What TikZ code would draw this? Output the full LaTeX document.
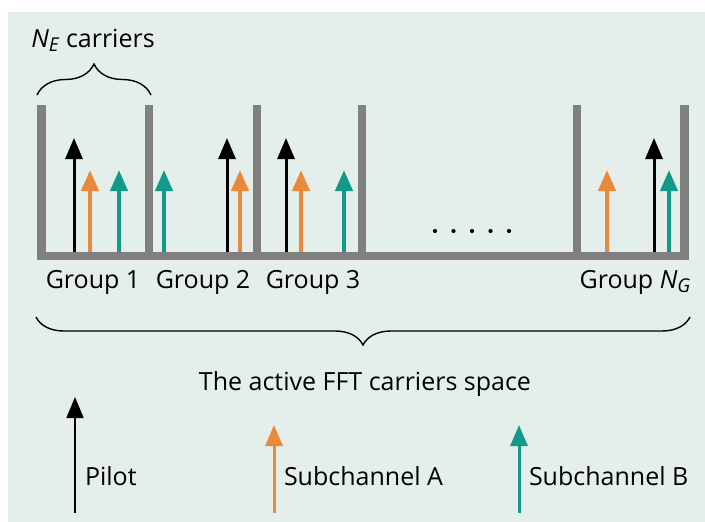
\documentclass[tikz,border=0pt]{standalone}
\usepackage{fontspec}
\setmainfont{Open Sans}
\usetikzlibrary{arrows.meta}
\usetikzlibrary{decorations.pathreplacing}
\definecolor{panelbg}{HTML}{E4EFEB}
\definecolor{wallgray}{HTML}{808080}
\definecolor{subAcol}{HTML}{E8893C}
\definecolor{subBcol}{HTML}{11998A}
\newcommand{\subidx}[1]{\raisebox{-4pt}{\fontsize{19}{20}\selectfont\textit{#1}}}
\tikzstyle{every node}=[font=\fontsize{25}{30}\selectfont, inner sep=0, outer sep=0]
\tikzstyle{wall}=[draw=wallgray, line width=8.5pt]
\tikzstyle{pilot}=[draw=black, line width=3pt, -{Triangle[width=17pt,length=21pt]}]
\tikzstyle{suba}=[draw=subAcol, line width=4pt, -{Triangle[width=17pt,length=21pt]}]
\tikzstyle{subb}=[draw=subBcol, line width=4pt, -{Triangle[width=17pt,length=21pt]}]
\tikzstyle{grpbrace}=[draw=black, line width=1.4pt, decorate]

\begin{document}
\begin{tikzpicture}[x=1pt,y=-1pt]
		\useasboundingbox (0,0) rectangle (705,522);
		\fill[panelbg] (8,12) rectangle (705,522);
		% carrier space
		\draw[wall] (37,256) -- (689,256);
		\draw[wall] (41.5,105) -- (41.5,260.25);
		\draw[wall] (149,105) -- (149,260.25);
		\draw[wall] (257,105) -- (257,260.25);
		\draw[wall] (362,105) -- (362,260.25);
		\draw[wall] (577,105) -- (577,260.25);
		\draw[wall] (684.5,105) -- (684.5,260.25);
		% group 1
		\draw[pilot] (74,252) -- (74,138);
		\draw[suba] (90,252) -- (90,170);
		\draw[subb] (119,252) -- (119,170);
		% group 2
		\draw[subb] (164,252) -- (164,170);
		\draw[pilot] (227,252) -- (227,138);
		\draw[suba] (240,252) -- (240,170);
		% group 3
		\draw[pilot] (286,252) -- (286,138);
		\draw[suba] (301,252) -- (301,170);
		\draw[subb] (344,252) -- (344,170);
		% group N_G
		\draw[suba] (607,252) -- (607,170);
		\draw[pilot] (654,252) -- (654,138);
		\draw[subb] (669,252) -- (669,170);
		\foreach \x in {435,453.5,472,490.5,509}
			\fill (\x,231) circle (2.1pt);
		\node[anchor=base] (g1) at (93,288) {Group 1};
		\node[anchor=base] (g2) at (203,288) {Group 2};
		\node[anchor=base] (g3) at (313,288) {Group 3};
		\node[anchor=base] (gn) at (635,288) {Group \textit{N}\subidx{G}};
		% braces
		\draw[grpbrace,decoration={brace,amplitude=31pt}] (37,95) -- (151,95);
		\node[anchor=base] (ne) at (93,47) {\textit{N}\subidx{E} carriers};
		\draw[grpbrace,decoration={brace,mirror,amplitude=28pt}] (36,317) -- (690,317);
		\node[anchor=base] (space) at (365,390) {The active FFT carriers space};
		% legend
		\draw[draw=black, line width=1.6pt, -{Triangle[width=17pt,length=21pt]}] (75,513) -- (75,397);
		\node[anchor=base west] (pilotlbl) at (85,485) {Pilot};
		\draw[suba, line width=3pt] (274,513) -- (274,425);
		\node[anchor=base west] (subalbl) at (284,485) {Subchannel A};
		\draw[subb, line width=3pt] (519,513) -- (519,425);
		\node[anchor=base west] (subblbl) at (529,485) {Subchannel B};
	\end{tikzpicture}
\end{document}
